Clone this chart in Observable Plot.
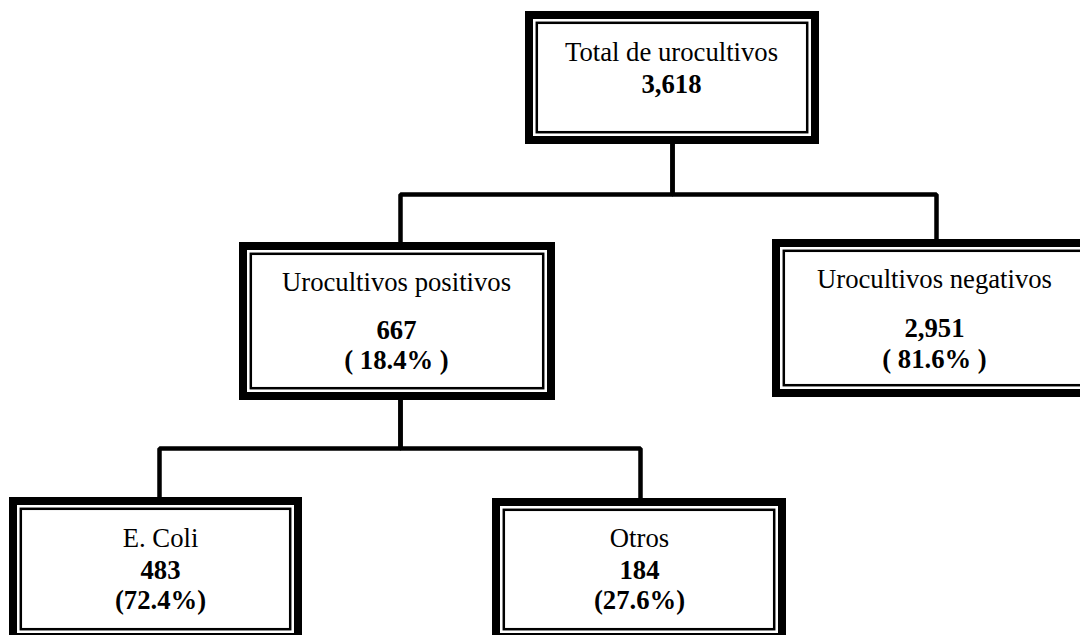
<!DOCTYPE html>
<html>
<head>
<meta charset="utf-8">
<script src="https://cdn.jsdelivr.net/npm/d3@7"></script>
<script src="https://cdn.jsdelivr.net/npm/@observablehq/plot@0.6"></script>
<style>
  html, body { margin: 0; padding: 0; background: #fff; overflow: hidden; }
  #chart { width: 1080px; height: 635px; overflow: hidden; }
</style>
</head>
<body>
<div id="chart"></div>
<script>
// ---- data ----
const nodeIds      = ["total", "pos", "neg", "ecoli", "otros"];
const nodeLabels   = ["Total de urocultivos", "Urocultivos positivos", "Urocultivos negativos", "E. Coli", "Otros"];
const nodeCounts   = [3618, 667, 2951, 483, 184];
const nodePercents = [null, 18.4, 81.6, 72.4, 27.6];
const nodeParents  = [null, "total", "total", "pos", "pos"];

// ---- layout (positions / styles only) ----
const layout = {
  total: {x1: 525, x2: 819, y1: 11,  y2: 144, tx: 671, lx: 672, busY: 194, off: [49, 81, null], pctStyle: null},
  pos:   {x1: 239, x2: 555, y1: 242, y2: 400, tx: 396, lx: 400, busY: 448, off: [48, 96, 126], pctStyle: "spaced"},
  neg:   {x1: 772, x2: 1098, y1: 239, y2: 397, tx: 934, lx: 936, off: [48, 97, 128], pctStyle: "spaced"},
  ecoli: {x1: 9,   x2: 302, y1: 497, y2: 641, tx: 160, lx: 159, off: [49, 81, 111], pctStyle: "tight"},
  otros: {x1: 492, x2: 786, y1: 498, y2: 641, tx: 639, lx: 640, off: [48, 80, 110], pctStyle: "tight"}
};

const fmtCount = d3.format(",");
const fmtPct = (v, style) => style === "spaced" ? `( ${v.toFixed(1)}% )` : `(${v.toFixed(1)}%)`;

const nodes = nodeIds.map((id, i) => ({
  ...layout[id], id, label: nodeLabels[i], count: nodeCounts[i], pct: nodePercents[i], parent: nodeParents[i]
}));

// connector polylines: parent bottom -> bus -> child x -> child top
const edgePts = [];
nodes.filter(n => n.parent).forEach(n => {
  const p = layout[n.parent];
  edgePts.push({z: n.id, x: p.lx, y: p.y2});
  edgePts.push({z: n.id, x: p.lx, y: p.busY});
  edgePts.push({z: n.id, x: n.lx, y: p.busY});
  edgePts.push({z: n.id, x: n.lx, y: n.y1});
});

const textRows = [];
nodes.forEach(n => {
  textRows.push({x: n.tx, y: n.y1 + n.off[0], text: n.label, weight: "normal"});
  textRows.push({x: n.tx, y: n.y1 + n.off[1], text: fmtCount(n.count), weight: "bold"});
  if (n.pct != null) textRows.push({x: n.tx, y: n.y1 + n.off[2], text: fmtPct(n.pct, n.pctStyle), weight: "bold"});
});

const font = "'Liberation Serif', 'Times New Roman', serif";

const chart = Plot.plot({
  width: 1080,
  height: 635,
  margin: 0,
  x: {domain: [0, 1080], range: [0, 1080], axis: null},
  y: {domain: [0, 635], range: [0, 635], axis: null},
  style: {background: "#fff", fontFamily: font},
  marks: [
    Plot.line(edgePts, {x: "x", y: "y", z: "z", stroke: "#000", strokeWidth: 4.5, strokeLinejoin: "miter", strokeLinecap: "square", curve: "linear"}),
    Plot.rect(nodes, {x1: "x1", x2: "x2", y1: "y1", y2: "y2", fill: "#fff", stroke: "#000", strokeWidth: 8, inset: 4}),
    Plot.rect(nodes, {x1: "x1", x2: "x2", y1: "y1", y2: "y2", fill: "none", stroke: "#000", strokeWidth: 2.5, inset: 11.8}),
    Plot.text(textRows.filter(d => d.weight === "normal"), {x: "x", y: "y", text: "text", lineAnchor: "bottom", fontSize: 26.7, fill: "#000", fontFamily: font}),
    Plot.text(textRows.filter(d => d.weight === "bold"), {x: "x", y: "y", text: "text", lineAnchor: "bottom", fontSize: 26.7, fontWeight: "bold", fill: "#000", fontFamily: font})
  ]
});
document.getElementById("chart").appendChild(chart);
</script>
</body>
</html>
